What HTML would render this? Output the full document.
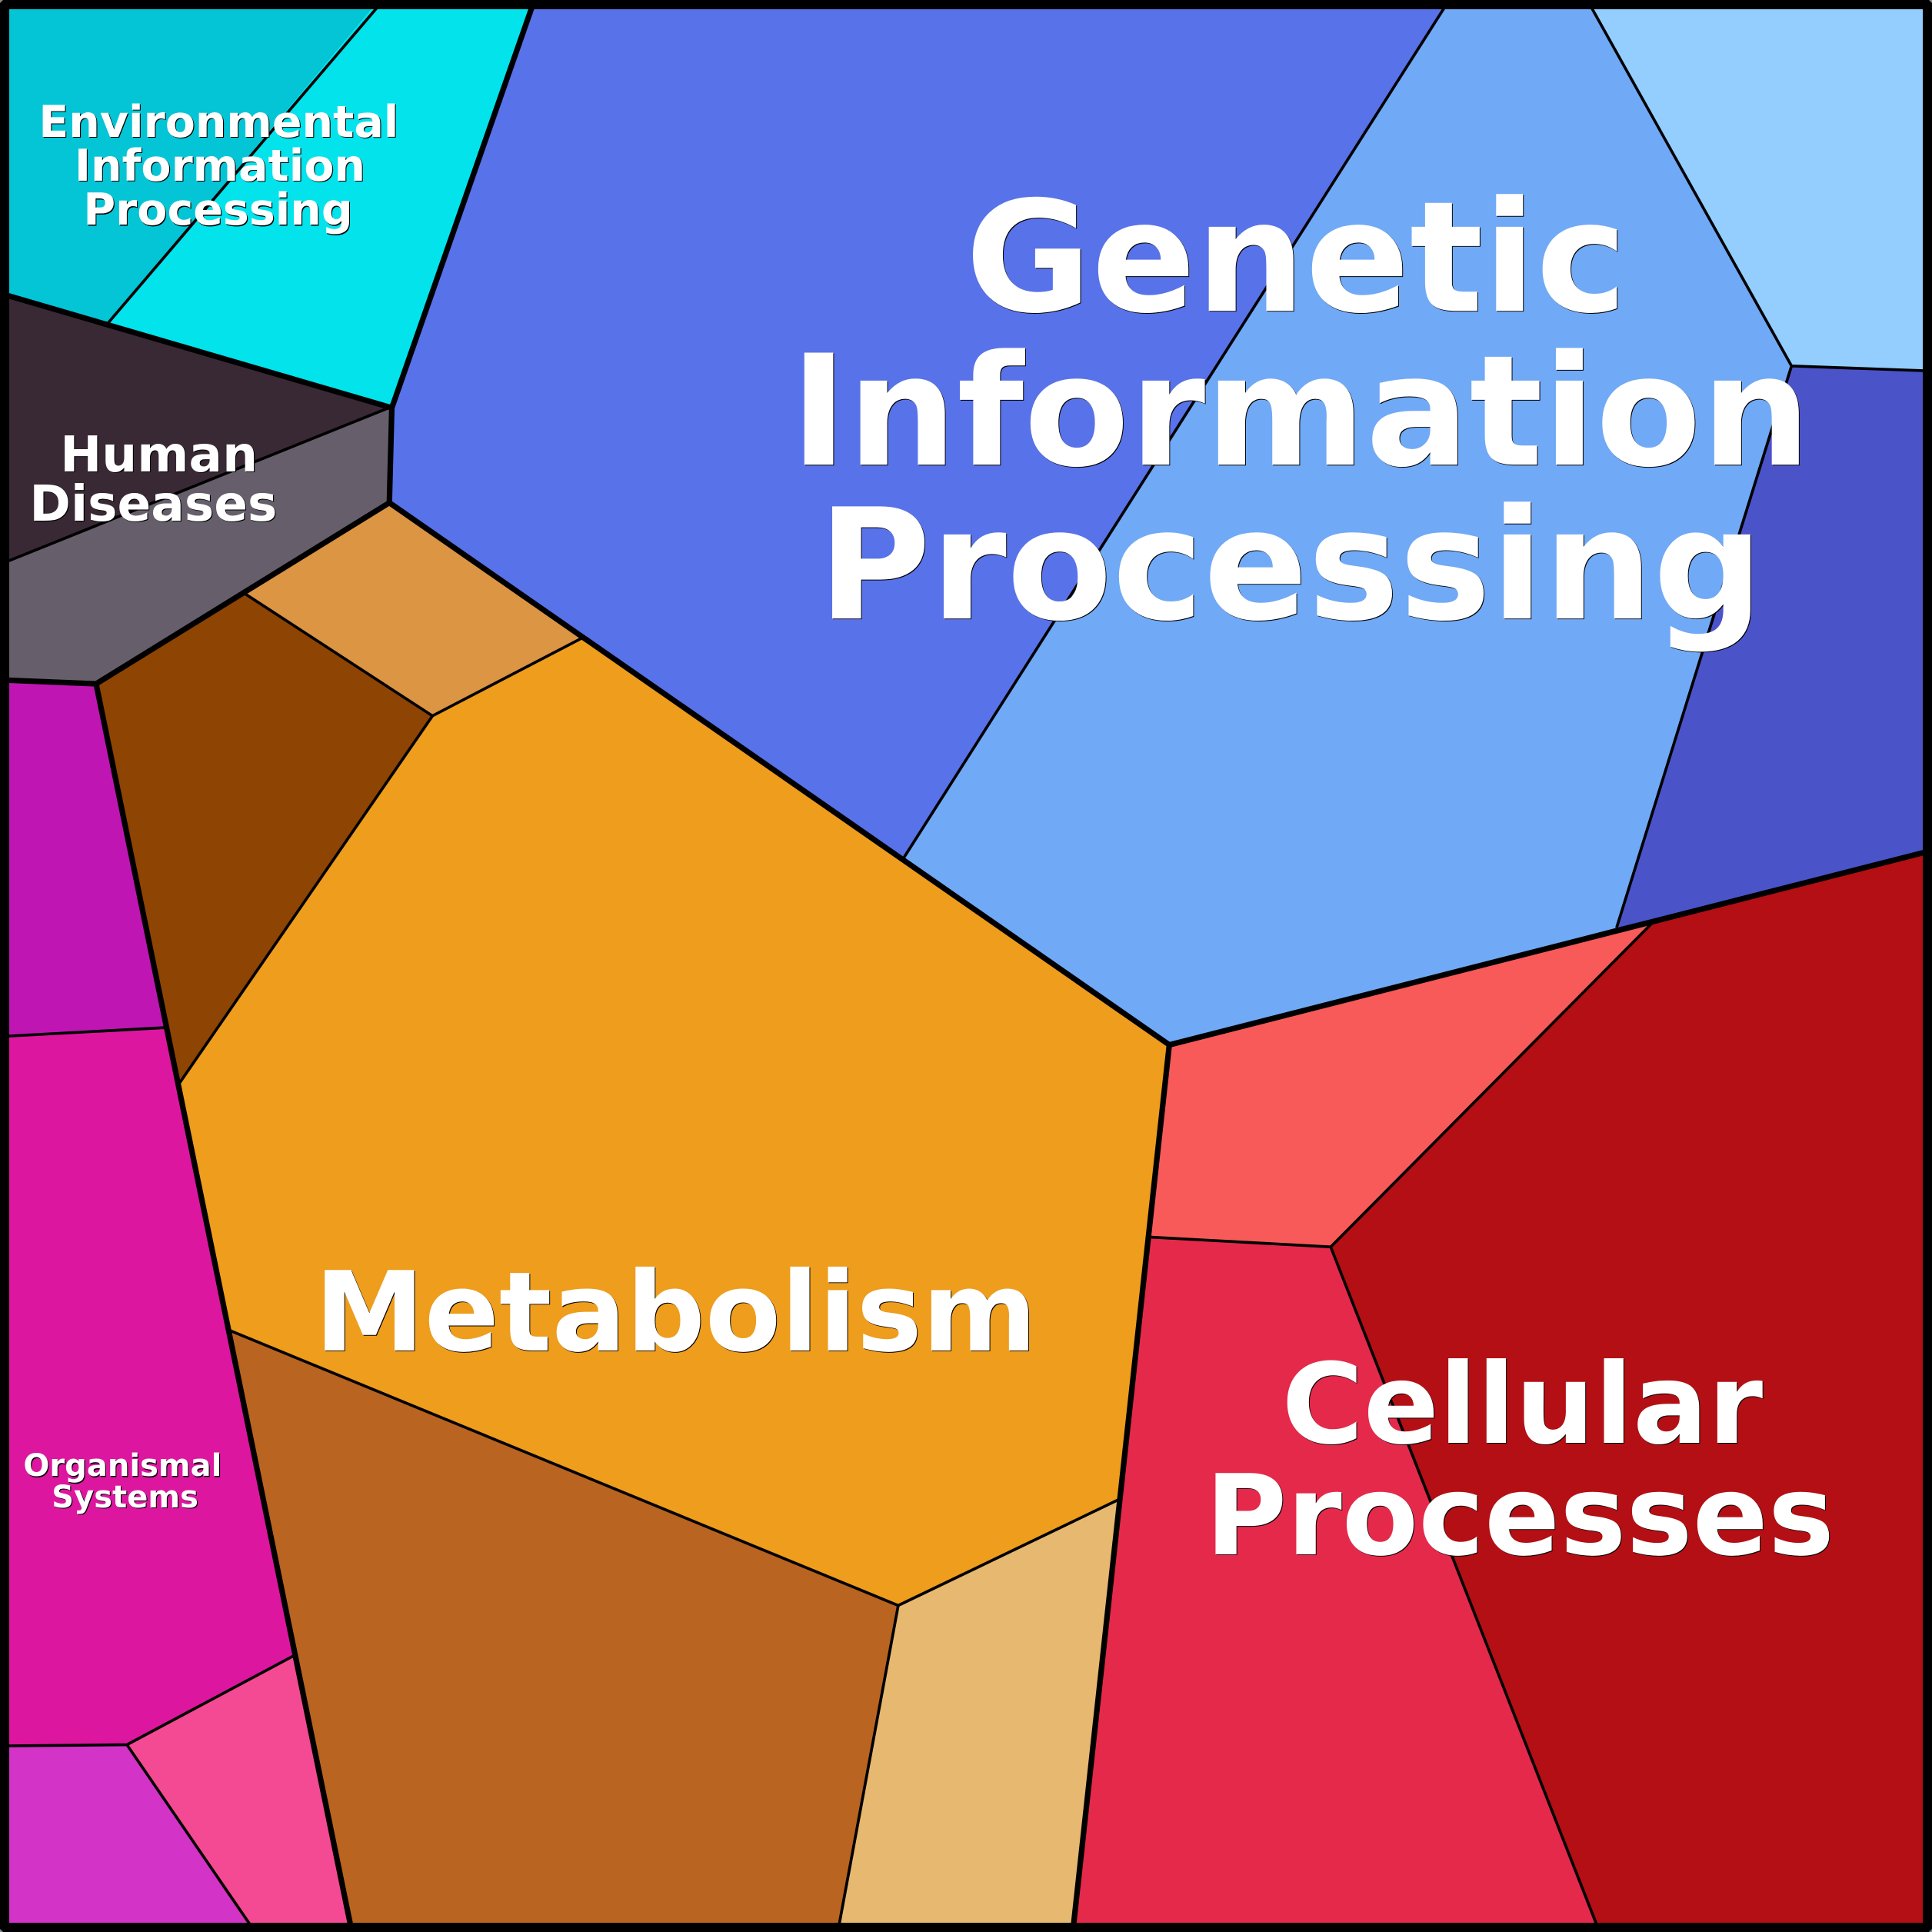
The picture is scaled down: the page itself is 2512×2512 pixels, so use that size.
<!DOCTYPE html>
<html><head><meta charset="utf-8"><title>Voronoi treemap</title>
<style>
html,body{margin:0;padding:0;background:#000;width:2512px;height:2512px;overflow:hidden}
svg{display:block}
text{font-family:"DejaVu Sans","Liberation Sans",sans-serif;font-weight:700;fill:#fff;text-anchor:middle}
.s{fill:#000}
.thin{fill:none;stroke:#000;stroke-width:2.3;stroke-linejoin:miter}
.thick{fill:none;stroke:#000;stroke-width:4.5;stroke-linejoin:miter}
</style></head><body>
<svg xmlns="http://www.w3.org/2000/svg" width="2512" height="2512" viewBox="0 0 1568 1568">
<rect width="1568" height="1568" fill="#000"/>
<!-- cells -->
<polygon fill="#04c5d6" points="0,0 307,0 87,263 0,238"/>
<polygon fill="#02e3ec" points="307,0 432,0 318,331 87,263"/>
<polygon fill="#392934" points="0,238 318,331 0,458"/>
<polygon fill="#665f6b" points="318,331 316,408 78,555 0,552 0,458"/>
<polygon fill="#5872e9" points="432,0 1175,0 733,697 316,408 318,331"/>
<polygon fill="#70a9f6" points="1175,0 1289,0 1454,297 1312,753 949,848 733,697"/>
<polygon fill="#93cefe" points="1289,0 1568,0 1568,301 1454,297"/>
<polygon fill="#4b53c9" points="1454,297 1568,301 1568,690 1312,753"/>
<polygon fill="#db9543" points="316,408 472,518 351,581 199,482"/>
<polygon fill="#8e4402" points="199,482 351,581 145,880 78,555"/>
<polygon fill="#ee9d1c" points="472,518 949,848 908,1217 729,1303 187,1080 145,880 351,581"/>
<polygon fill="#b96420" points="187,1080 729,1303 680,1568 285,1568"/>
<polygon fill="#e6b870" points="729,1303 908,1217 871,1568 680,1568"/>
<polygon fill="#f85a5a" points="949,848 1344,746 1080,1012 933,1004"/>
<polygon fill="#b30f14" points="1344,746 1568,690 1568,1568 1297,1568 1080,1012"/>
<polygon fill="#e5294a" points="933,1004 1080,1012 1297,1568 871,1568"/>
<polygon fill="#bf16b3" points="0,552 78,555 134,834 0,841"/>
<polygon fill="#dd16a0" points="0,841 134,834 238,1344 103,1416 0,1417"/>
<polygon fill="#f44a93" points="238,1344 285,1568 205,1568 103,1416"/>
<polygon fill="#d433c8" points="0,1417 103,1416 205,1568 0,1568"/>
<!-- thin edges -->
<polyline class="thin" points="307,5 87,263"/>
<polyline class="thin" points="318,330 5,456"/>
<polyline class="thin" points="1173,5 733,697"/>
<polyline class="thin" points="1291,5 1454,297 1565,301"/>
<polyline class="thin" points="1454,297 1312,753"/>
<polyline class="thin" points="1344,746 1080,1012 933,1004"/>
<polyline class="thin" points="1080,1012 1297,1565"/>
<polyline class="thin" points="199,482 351,581 472,518"/>
<polyline class="thin" points="351,581 145,880"/>
<polyline class="thin" points="134,834 5,841"/>
<polyline class="thin" points="187,1080 729,1303 908,1217"/>
<polyline class="thin" points="729,1303 680.5,1565"/>
<polyline class="thin" points="238,1344 103,1416 5,1417"/>
<polyline class="thin" points="103,1416 205,1565"/>
<!-- thick edges -->
<polyline class="thick" points="5,239.5 318,331 432,5"/>
<polyline class="thick" points="318,331 316,408 78,555 5,552"/>
<polyline class="thick" points="316,408 949,848 1565,691"/>
<polyline class="thick" points="949,848 871,1565"/>
<polyline class="thick" points="78,555 285,1565"/>
<!-- frame -->
<rect x="3.75" y="3.75" width="1560.5" height="1560.5" fill="none" stroke="#000" stroke-width="7.5"/>
<polygon fill="#888" points="1568,1565.5 1568,1568 1565.5,1568"/>
<polygon fill="#888" points="0,1565.5 0,1568 2.5,1568"/>
<polygon fill="#888" points="1568,2.5 1568,0 1565.5,0"/>
<polygon fill="#888" points="0,2.5 0,0 2.5,0"/>
<!-- labels: black offset then white -->
<g font-size="124.84">
<text class="s" x="1052.6" y="252.9">Genetic</text>
<text class="s" x="1056.1" y="377.8">Information</text>
<text class="s" x="1048.1" y="502.6">Processing</text>
<text x="1052" y="252.3">Genetic</text>
<text x="1055.5" y="377.2">Information</text>
<text x="1047.5" y="502">Processing</text>
</g>
<g font-size="89.5">
<text class="s" x="549.1" y="1096.6">Metabolism</text>
<text x="548.5" y="1096">Metabolism</text>
</g>
<g font-size="90.4">
<text class="s" x="1236.1" y="1171.6">Cellular</text>
<text class="s" x="1234.1" y="1262">Processes</text>
<text x="1235.5" y="1171">Cellular</text>
<text x="1233.5" y="1261.4">Processes</text>
</g>
<g font-size="35.58">
<text class="s" x="178.2" y="111.7">Environmental</text>
<text class="s" x="179.2" y="147.4">Information</text>
<text class="s" x="177.7" y="183.1">Processing</text>
<text x="177.5" y="111">Environmental</text>
<text x="178.5" y="146.7">Information</text>
<text x="177" y="182.4">Processing</text>
</g>
<g font-size="40.3">
<text class="s" x="129.7" y="383.3">Human</text>
<text class="s" x="125.2" y="423.3">Diseases</text>
<text x="129" y="382.6">Human</text>
<text x="124.5" y="422.6">Diseases</text>
</g>
<g font-size="25">
<text class="s" x="100.2" y="1198.7">Organismal</text>
<text class="s" x="102.2" y="1224.1">Systems</text>
<text x="99.5" y="1198">Organismal</text>
<text x="101.5" y="1223.4">Systems</text>
</g>
</svg>
</body></html>
